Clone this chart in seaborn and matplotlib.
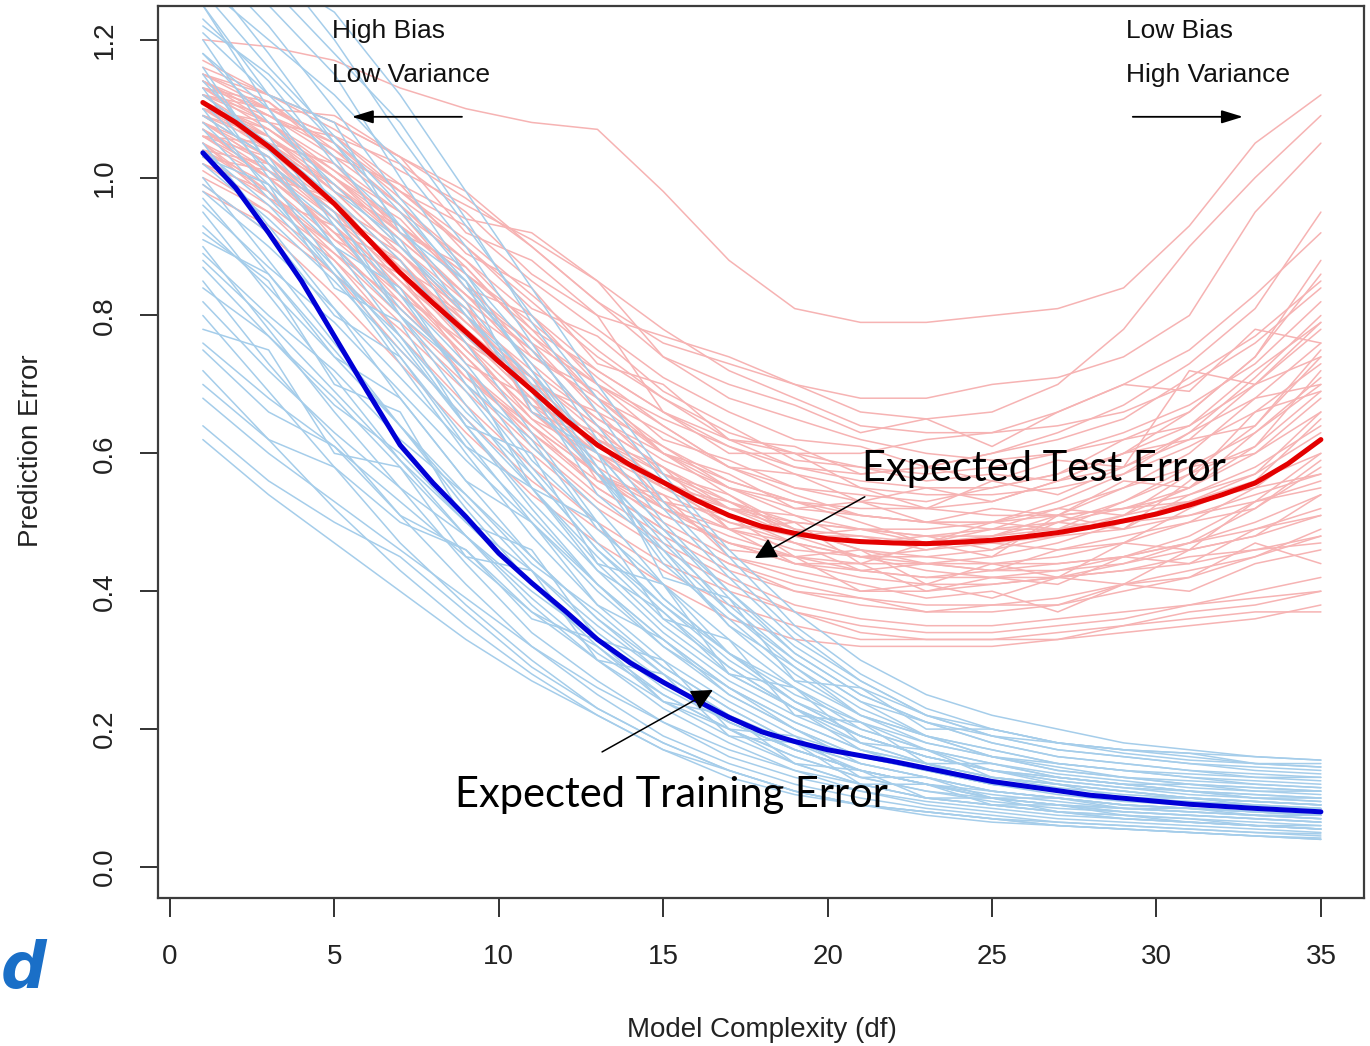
import matplotlib
matplotlib.use("Agg")
import matplotlib.pyplot as plt
import pandas as pd
import seaborn as sns

# Model complexity grid at which each simulated run is recorded
DF_GRID = [1, 3, 5, 7, 9, 11, 13, 15, 17, 19, 21, 23, 25, 27, 29, 31, 33, 35]

# Test error of individual training sets (one list per run)
TEST_RUNS = [
    [1.20, 1.19, 1.17, 1.13, 1.10, 1.08, 1.07, 0.98, 0.88, 0.81, 0.79, 0.79, 0.80, 0.81, 0.84, 0.93, 1.05, 1.12],
    [1.15, 1.12, 1.08, 1.03, 0.98, 0.90, 0.82, 0.76, 0.73, 0.70, 0.66, 0.65, 0.66, 0.70, 0.78, 0.90, 1.00, 1.09],
    [1.13, 1.10, 1.06, 1.02, 0.95, 0.86, 0.80, 0.77, 0.74, 0.70, 0.68, 0.68, 0.70, 0.71, 0.74, 0.80, 0.95, 1.05],
    [1.12, 1.08, 1.01, 0.93, 0.86, 0.78, 0.72, 0.66, 0.62, 0.60, 0.60, 0.62, 0.63, 0.66, 0.70, 0.75, 0.83, 0.92],
    [1.10, 1.06, 0.99, 0.90, 0.80, 0.70, 0.62, 0.57, 0.53, 0.50, 0.49, 0.48, 0.49, 0.50, 0.52, 0.55, 0.60, 0.66],
    [1.09, 1.03, 0.95, 0.85, 0.75, 0.66, 0.58, 0.52, 0.47, 0.44, 0.43, 0.42, 0.43, 0.44, 0.45, 0.47, 0.50, 0.54],
    [1.07, 1.00, 0.92, 0.82, 0.72, 0.62, 0.54, 0.48, 0.43, 0.40, 0.39, 0.38, 0.38, 0.39, 0.41, 0.43, 0.45, 0.48],
    [1.05, 0.98, 0.88, 0.77, 0.67, 0.58, 0.50, 0.44, 0.40, 0.37, 0.35, 0.34, 0.34, 0.35, 0.36, 0.38, 0.40, 0.42],
    [1.14, 1.10, 1.05, 0.97, 0.90, 0.82, 0.74, 0.68, 0.62, 0.58, 0.56, 0.55, 0.55, 0.57, 0.60, 0.64, 0.70, 0.78],
    [1.11, 1.07, 1.00, 0.92, 0.83, 0.73, 0.65, 0.59, 0.55, 0.52, 0.51, 0.50, 0.50, 0.52, 0.55, 0.58, 0.63, 0.70],
    [1.08, 1.04, 0.97, 0.88, 0.78, 0.69, 0.61, 0.55, 0.50, 0.47, 0.45, 0.45, 0.46, 0.48, 0.51, 0.55, 0.61, 0.69],
    [1.13, 1.08, 1.02, 0.95, 0.88, 0.78, 0.68, 0.60, 0.54, 0.49, 0.46, 0.45, 0.44, 0.44, 0.45, 0.47, 0.49, 0.52],
    [1.06, 1.01, 0.94, 0.86, 0.77, 0.68, 0.60, 0.53, 0.49, 0.46, 0.45, 0.46, 0.48, 0.51, 0.55, 0.60, 0.68, 0.76],
    [1.04, 0.99, 0.91, 0.83, 0.74, 0.64, 0.57, 0.50, 0.45, 0.42, 0.40, 0.40, 0.41, 0.42, 0.44, 0.47, 0.52, 0.58],
    [1.12, 1.06, 0.98, 0.89, 0.81, 0.74, 0.68, 0.63, 0.58, 0.55, 0.53, 0.52, 0.51, 0.51, 0.52, 0.53, 0.55, 0.57],
    [1.02, 0.96, 0.89, 0.80, 0.71, 0.63, 0.56, 0.51, 0.47, 0.44, 0.42, 0.41, 0.41, 0.42, 0.43, 0.45, 0.46, 0.47],
    [1.15, 1.11, 1.04, 0.96, 0.88, 0.80, 0.72, 0.66, 0.61, 0.57, 0.55, 0.54, 0.54, 0.55, 0.57, 0.61, 0.66, 0.73],
    [1.09, 1.05, 0.99, 0.91, 0.83, 0.75, 0.67, 0.60, 0.55, 0.51, 0.49, 0.48, 0.48, 0.49, 0.51, 0.53, 0.56, 0.60],
    [1.00, 0.95, 0.88, 0.79, 0.70, 0.61, 0.53, 0.47, 0.42, 0.38, 0.36, 0.35, 0.35, 0.36, 0.37, 0.38, 0.39, 0.40],
    [1.17, 1.12, 1.07, 1.01, 0.96, 0.91, 0.85, 0.78, 0.72, 0.68, 0.64, 0.63, 0.63, 0.64, 0.66, 0.70, 0.76, 0.84],
    [1.10, 1.04, 0.96, 0.86, 0.76, 0.67, 0.60, 0.55, 0.52, 0.50, 0.49, 0.49, 0.50, 0.53, 0.57, 0.63, 0.71, 0.80],
    [1.07, 1.02, 0.95, 0.87, 0.79, 0.71, 0.64, 0.58, 0.53, 0.49, 0.46, 0.44, 0.43, 0.43, 0.44, 0.46, 0.48, 0.51],
    [1.03, 0.97, 0.90, 0.81, 0.72, 0.63, 0.55, 0.49, 0.44, 0.40, 0.38, 0.37, 0.37, 0.38, 0.40, 0.42, 0.45, 0.49],
    [1.12, 1.09, 1.04, 0.98, 0.91, 0.83, 0.75, 0.68, 0.63, 0.60, 0.58, 0.57, 0.58, 0.60, 0.63, 0.67, 0.73, 0.82],
    [1.08, 1.02, 0.94, 0.84, 0.74, 0.65, 0.57, 0.51, 0.47, 0.45, 0.44, 0.44, 0.45, 0.47, 0.50, 0.53, 0.57, 0.63],
    [1.14, 1.09, 1.03, 0.96, 0.87, 0.77, 0.68, 0.61, 0.56, 0.53, 0.52, 0.52, 0.53, 0.56, 0.60, 0.66, 0.74, 0.86],
    [0.98, 0.93, 0.86, 0.78, 0.69, 0.60, 0.52, 0.46, 0.41, 0.37, 0.34, 0.33, 0.33, 0.33, 0.34, 0.35, 0.36, 0.38],
    [1.11, 1.06, 1.00, 0.93, 0.86, 0.79, 0.71, 0.64, 0.58, 0.54, 0.51, 0.50, 0.49, 0.49, 0.50, 0.51, 0.53, 0.56],
    [1.06, 1.00, 0.92, 0.84, 0.75, 0.66, 0.59, 0.54, 0.50, 0.48, 0.47, 0.47, 0.48, 0.50, 0.53, 0.57, 0.64, 0.74],
    [1.13, 1.07, 1.00, 0.91, 0.83, 0.76, 0.70, 0.65, 0.61, 0.58, 0.57, 0.58, 0.60, 0.63, 0.67, 0.73, 0.81, 0.95],
    [1.09, 1.03, 0.96, 0.87, 0.79, 0.71, 0.63, 0.57, 0.52, 0.48, 0.45, 0.43, 0.42, 0.42, 0.43, 0.44, 0.46, 0.48],
    [1.05, 1.00, 0.93, 0.85, 0.77, 0.68, 0.61, 0.56, 0.52, 0.49, 0.48, 0.47, 0.47, 0.48, 0.49, 0.51, 0.54, 0.57],
    [1.16, 1.12, 1.08, 1.03, 0.97, 0.90, 0.82, 0.74, 0.68, 0.65, 0.62, 0.60, 0.59, 0.60, 0.62, 0.66, 0.74, 0.88],
    [1.04, 0.98, 0.90, 0.81, 0.72, 0.64, 0.57, 0.52, 0.48, 0.45, 0.43, 0.42, 0.42, 0.43, 0.45, 0.48, 0.53, 0.60],
    [1.10, 1.05, 0.98, 0.89, 0.80, 0.72, 0.65, 0.60, 0.56, 0.53, 0.51, 0.50, 0.50, 0.51, 0.52, 0.54, 0.58, 0.64],
    [1.08, 1.02, 0.95, 0.87, 0.78, 0.70, 0.62, 0.56, 0.51, 0.47, 0.45, 0.44, 0.44, 0.45, 0.47, 0.50, 0.55, 0.62],
    [1.12, 1.10, 1.09, 1.03, 0.92, 0.88, 0.80, 0.66, 0.60, 0.60, 0.55, 0.52, 0.56, 0.54, 0.58, 0.72, 0.70, 0.79],
    [1.06, 1.05, 0.96, 0.90, 0.82, 0.66, 0.62, 0.58, 0.49, 0.50, 0.44, 0.47, 0.45, 0.51, 0.49, 0.56, 0.66, 0.69],
    [1.14, 1.08, 1.06, 0.99, 0.94, 0.92, 0.85, 0.74, 0.70, 0.67, 0.63, 0.65, 0.61, 0.66, 0.70, 0.69, 0.78, 0.76],
    [1.03, 1.01, 0.92, 0.88, 0.76, 0.70, 0.56, 0.54, 0.45, 0.43, 0.41, 0.39, 0.40, 0.37, 0.41, 0.42, 0.47, 0.44],
    [0.99, 0.92, 0.83, 0.73, 0.63, 0.54, 0.47, 0.41, 0.36, 0.33, 0.32, 0.32, 0.32, 0.33, 0.35, 0.37, 0.38, 0.40],
    [1.01, 0.95, 0.86, 0.75, 0.65, 0.56, 0.49, 0.43, 0.38, 0.35, 0.33, 0.33, 0.33, 0.34, 0.35, 0.36, 0.37, 0.37],
    [1.10, 1.07, 1.01, 0.95, 0.84, 0.76, 0.66, 0.61, 0.55, 0.53, 0.50, 0.47, 0.49, 0.52, 0.51, 0.57, 0.61, 0.72],
    [1.07, 1.00, 0.97, 0.86, 0.80, 0.67, 0.63, 0.53, 0.51, 0.45, 0.46, 0.41, 0.44, 0.42, 0.47, 0.46, 0.53, 0.55],
    [1.13, 1.11, 1.03, 0.99, 0.89, 0.84, 0.73, 0.70, 0.62, 0.61, 0.57, 0.58, 0.56, 0.59, 0.58, 0.63, 0.68, 0.70],
    [1.05, 0.97, 0.93, 0.83, 0.76, 0.65, 0.60, 0.52, 0.49, 0.44, 0.44, 0.40, 0.42, 0.41, 0.45, 0.44, 0.49, 0.51],
    [1.11, 1.04, 0.99, 0.92, 0.82, 0.75, 0.64, 0.58, 0.52, 0.51, 0.47, 0.48, 0.46, 0.50, 0.49, 0.54, 0.57, 0.66],
    [1.09, 1.06, 0.98, 0.93, 0.85, 0.74, 0.69, 0.60, 0.57, 0.52, 0.53, 0.50, 0.52, 0.51, 0.56, 0.55, 0.63, 0.71],
    [1.04, 1.02, 0.91, 0.86, 0.73, 0.68, 0.57, 0.53, 0.46, 0.45, 0.40, 0.41, 0.39, 0.42, 0.41, 0.46, 0.48, 0.54],
    [1.15, 1.10, 1.06, 0.98, 0.93, 0.85, 0.78, 0.71, 0.66, 0.62, 0.61, 0.58, 0.60, 0.62, 0.65, 0.71, 0.77, 0.85],
    [1.08, 1.03, 0.95, 0.89, 0.79, 0.70, 0.66, 0.57, 0.54, 0.48, 0.48, 0.46, 0.47, 0.46, 0.48, 0.50, 0.52, 0.59],
    [1.12, 1.05, 1.02, 0.92, 0.87, 0.77, 0.70, 0.62, 0.59, 0.55, 0.54, 0.53, 0.55, 0.57, 0.62, 0.64, 0.72, 0.79],
    [1.06, 1.03, 0.94, 0.88, 0.77, 0.71, 0.60, 0.56, 0.49, 0.47, 0.43, 0.44, 0.43, 0.46, 0.47, 0.52, 0.56, 0.65],
    [1.02, 0.98, 0.89, 0.82, 0.71, 0.64, 0.55, 0.49, 0.44, 0.41, 0.39, 0.37, 0.38, 0.38, 0.41, 0.40, 0.44, 0.46],
    [1.14, 1.09, 1.05, 0.98, 0.90, 0.81, 0.77, 0.69, 0.64, 0.59, 0.58, 0.56, 0.57, 0.56, 0.60, 0.62, 0.70, 0.74],
    [1.10, 1.08, 1.00, 0.94, 0.84, 0.80, 0.70, 0.64, 0.58, 0.57, 0.53, 0.55, 0.53, 0.56, 0.58, 0.62, 0.64, 0.75],
    [1.07, 1.01, 0.96, 0.87, 0.81, 0.71, 0.64, 0.55, 0.53, 0.48, 0.49, 0.47, 0.50, 0.49, 0.53, 0.58, 0.60, 0.68],
]

# Training error of the same runs
TRAIN_RUNS = [
    [1.30, 1.18, 1.05, 0.93, 0.82, 0.70, 0.58, 0.47, 0.38, 0.30, 0.24, 0.21, 0.19, 0.18, 0.17, 0.165, 0.16, 0.155],
    [1.25, 1.10, 0.96, 0.83, 0.70, 0.58, 0.47, 0.38, 0.31, 0.25, 0.21, 0.18, 0.16, 0.15, 0.14, 0.135, 0.13, 0.13],
    [1.20, 1.06, 0.93, 0.80, 0.67, 0.55, 0.44, 0.35, 0.28, 0.23, 0.19, 0.16, 0.14, 0.13, 0.12, 0.11, 0.105, 0.10],
    [1.15, 1.02, 0.90, 0.77, 0.64, 0.52, 0.41, 0.33, 0.26, 0.21, 0.17, 0.15, 0.13, 0.12, 0.11, 0.10, 0.095, 0.09],
    [1.10, 0.98, 0.86, 0.73, 0.60, 0.48, 0.38, 0.30, 0.24, 0.19, 0.16, 0.14, 0.12, 0.11, 0.10, 0.095, 0.09, 0.085],
    [1.05, 0.93, 0.81, 0.68, 0.56, 0.45, 0.36, 0.28, 0.22, 0.18, 0.15, 0.13, 0.11, 0.10, 0.09, 0.085, 0.08, 0.075],
    [1.00, 0.88, 0.76, 0.64, 0.52, 0.41, 0.32, 0.25, 0.20, 0.16, 0.13, 0.11, 0.10, 0.09, 0.08, 0.075, 0.07, 0.065],
    [0.95, 0.83, 0.71, 0.59, 0.48, 0.38, 0.30, 0.23, 0.18, 0.14, 0.12, 0.10, 0.09, 0.08, 0.07, 0.065, 0.06, 0.055],
    [0.90, 0.78, 0.66, 0.55, 0.44, 0.34, 0.27, 0.21, 0.16, 0.13, 0.11, 0.09, 0.08, 0.07, 0.065, 0.06, 0.055, 0.05],
    [0.85, 0.73, 0.62, 0.51, 0.41, 0.32, 0.25, 0.19, 0.15, 0.12, 0.10, 0.085, 0.075, 0.065, 0.06, 0.055, 0.05, 0.045],
    [0.80, 0.69, 0.58, 0.47, 0.38, 0.30, 0.23, 0.18, 0.14, 0.11, 0.09, 0.08, 0.07, 0.06, 0.055, 0.05, 0.045, 0.04],
    [0.72, 0.62, 0.52, 0.43, 0.35, 0.28, 0.22, 0.17, 0.13, 0.105, 0.09, 0.075, 0.065, 0.06, 0.055, 0.05, 0.045, 0.042],
    [0.64, 0.56, 0.50, 0.45, 0.37, 0.29, 0.23, 0.18, 0.14, 0.11, 0.09, 0.08, 0.07, 0.065, 0.06, 0.055, 0.05, 0.048],
    [1.28, 1.20, 1.12, 1.02, 0.90, 0.76, 0.62, 0.50, 0.40, 0.32, 0.26, 0.22, 0.20, 0.18, 0.17, 0.16, 0.15, 0.145],
    [1.22, 1.15, 1.05, 0.95, 0.85, 0.72, 0.58, 0.45, 0.35, 0.27, 0.22, 0.19, 0.17, 0.15, 0.14, 0.13, 0.12, 0.115],
    [1.12, 1.05, 0.97, 0.88, 0.76, 0.63, 0.50, 0.39, 0.31, 0.24, 0.20, 0.17, 0.15, 0.135, 0.125, 0.115, 0.11, 0.105],
    [1.08, 0.99, 0.90, 0.80, 0.69, 0.57, 0.46, 0.37, 0.29, 0.23, 0.19, 0.16, 0.14, 0.125, 0.115, 0.105, 0.10, 0.095],
    [0.98, 0.90, 0.81, 0.71, 0.61, 0.51, 0.41, 0.33, 0.26, 0.21, 0.17, 0.14, 0.12, 0.11, 0.10, 0.09, 0.085, 0.08],
    [0.93, 0.84, 0.74, 0.64, 0.54, 0.45, 0.36, 0.29, 0.23, 0.18, 0.15, 0.13, 0.11, 0.10, 0.09, 0.085, 0.08, 0.075],
    [0.88, 0.79, 0.69, 0.59, 0.50, 0.41, 0.33, 0.26, 0.21, 0.17, 0.14, 0.12, 0.10, 0.09, 0.085, 0.08, 0.075, 0.07],
    [0.82, 0.72, 0.63, 0.55, 0.48, 0.40, 0.33, 0.27, 0.21, 0.17, 0.14, 0.12, 0.11, 0.10, 0.09, 0.085, 0.08, 0.075],
    [0.76, 0.68, 0.61, 0.53, 0.45, 0.37, 0.30, 0.24, 0.19, 0.15, 0.12, 0.10, 0.09, 0.08, 0.075, 0.07, 0.065, 0.06],
    [0.68, 0.60, 0.53, 0.46, 0.39, 0.32, 0.26, 0.21, 0.17, 0.14, 0.11, 0.095, 0.085, 0.075, 0.07, 0.065, 0.06, 0.055],
    [1.30, 1.25, 1.15, 1.00, 0.86, 0.72, 0.60, 0.49, 0.40, 0.31, 0.25, 0.21, 0.18, 0.16, 0.15, 0.14, 0.13, 0.125],
    [1.18, 1.08, 0.99, 0.90, 0.80, 0.69, 0.57, 0.46, 0.37, 0.29, 0.23, 0.19, 0.16, 0.145, 0.13, 0.12, 0.115, 0.11],
    [1.02, 0.94, 0.85, 0.75, 0.65, 0.55, 0.45, 0.36, 0.29, 0.23, 0.18, 0.15, 0.13, 0.115, 0.105, 0.10, 0.095, 0.09],
    [1.13, 1.00, 0.87, 0.74, 0.62, 0.50, 0.40, 0.32, 0.25, 0.20, 0.16, 0.14, 0.12, 0.105, 0.095, 0.09, 0.085, 0.08],
    [0.97, 0.86, 0.75, 0.64, 0.53, 0.43, 0.34, 0.27, 0.21, 0.17, 0.14, 0.12, 0.105, 0.095, 0.085, 0.08, 0.075, 0.07],
    [1.07, 0.97, 0.87, 0.76, 0.64, 0.53, 0.43, 0.34, 0.27, 0.22, 0.18, 0.15, 0.13, 0.12, 0.11, 0.10, 0.095, 0.09],
    [0.87, 0.77, 0.68, 0.58, 0.48, 0.39, 0.31, 0.25, 0.20, 0.16, 0.13, 0.11, 0.095, 0.085, 0.08, 0.075, 0.07, 0.065],
    [1.16, 1.02, 0.95, 0.80, 0.72, 0.55, 0.50, 0.36, 0.33, 0.22, 0.21, 0.15, 0.15, 0.13, 0.12, 0.12, 0.11, 0.11],
    [0.92, 0.85, 0.70, 0.66, 0.50, 0.46, 0.33, 0.30, 0.20, 0.19, 0.13, 0.13, 0.10, 0.10, 0.085, 0.085, 0.075, 0.075],
    [1.25, 1.12, 1.08, 0.92, 0.85, 0.66, 0.60, 0.42, 0.39, 0.27, 0.26, 0.20, 0.20, 0.18, 0.17, 0.165, 0.15, 0.15],
    [0.78, 0.75, 0.60, 0.58, 0.45, 0.43, 0.30, 0.28, 0.19, 0.18, 0.12, 0.12, 0.09, 0.09, 0.075, 0.07, 0.06, 0.06],
    [1.03, 0.99, 0.84, 0.79, 0.64, 0.60, 0.44, 0.41, 0.28, 0.26, 0.18, 0.17, 0.13, 0.12, 0.10, 0.10, 0.09, 0.085],
    [0.70, 0.62, 0.58, 0.50, 0.46, 0.36, 0.33, 0.24, 0.22, 0.15, 0.14, 0.10, 0.10, 0.08, 0.075, 0.065, 0.06, 0.055],
    [1.35, 1.30, 1.24, 1.12, 0.98, 0.84, 0.70, 0.57, 0.46, 0.37, 0.30, 0.25, 0.22, 0.20, 0.18, 0.17, 0.16, 0.155],
    [1.40, 1.32, 1.20, 1.06, 0.93, 0.80, 0.68, 0.56, 0.45, 0.35, 0.28, 0.23, 0.20, 0.18, 0.165, 0.155, 0.15, 0.145],
    [1.32, 1.22, 1.10, 0.97, 0.86, 0.75, 0.64, 0.52, 0.42, 0.33, 0.27, 0.22, 0.19, 0.17, 0.16, 0.15, 0.14, 0.135],
    [0.62, 0.54, 0.47, 0.40, 0.33, 0.27, 0.22, 0.17, 0.14, 0.11, 0.09, 0.08, 0.07, 0.06, 0.055, 0.05, 0.045, 0.04],
    [1.27, 1.16, 1.06, 0.96, 0.84, 0.73, 0.60, 0.49, 0.39, 0.31, 0.25, 0.21, 0.18, 0.16, 0.15, 0.14, 0.135, 0.13],
    [1.18, 1.10, 0.98, 0.91, 0.77, 0.69, 0.54, 0.46, 0.35, 0.29, 0.22, 0.19, 0.16, 0.14, 0.13, 0.12, 0.115, 0.11],
    [1.09, 1.03, 0.90, 0.84, 0.70, 0.62, 0.49, 0.41, 0.31, 0.26, 0.20, 0.17, 0.14, 0.13, 0.12, 0.11, 0.10, 0.10],
    [0.99, 0.92, 0.80, 0.74, 0.61, 0.55, 0.43, 0.37, 0.28, 0.23, 0.17, 0.15, 0.12, 0.11, 0.10, 0.095, 0.09, 0.085],
    [0.91, 0.86, 0.74, 0.68, 0.56, 0.50, 0.38, 0.33, 0.25, 0.20, 0.15, 0.13, 0.11, 0.10, 0.09, 0.085, 0.08, 0.075],
    [1.23, 1.14, 1.02, 0.93, 0.80, 0.71, 0.57, 0.48, 0.37, 0.30, 0.24, 0.19, 0.17, 0.15, 0.14, 0.13, 0.125, 0.12],
    [1.14, 1.04, 0.94, 0.83, 0.73, 0.61, 0.52, 0.41, 0.33, 0.26, 0.21, 0.17, 0.15, 0.13, 0.12, 0.11, 0.105, 0.10],
    [1.04, 0.96, 0.86, 0.77, 0.66, 0.57, 0.46, 0.38, 0.30, 0.24, 0.19, 0.16, 0.14, 0.12, 0.11, 0.10, 0.095, 0.09],
    [0.96, 0.87, 0.79, 0.69, 0.59, 0.50, 0.41, 0.32, 0.26, 0.20, 0.16, 0.14, 0.12, 0.11, 0.10, 0.09, 0.085, 0.08],
    [0.84, 0.77, 0.67, 0.60, 0.50, 0.43, 0.35, 0.28, 0.22, 0.17, 0.14, 0.12, 0.10, 0.09, 0.08, 0.075, 0.07, 0.065],
    [0.75, 0.66, 0.61, 0.51, 0.46, 0.37, 0.32, 0.24, 0.20, 0.15, 0.12, 0.10, 0.09, 0.08, 0.07, 0.065, 0.06, 0.055],
    [1.33, 1.28, 1.18, 1.08, 0.94, 0.79, 0.66, 0.53, 0.43, 0.34, 0.27, 0.22, 0.19, 0.17, 0.16, 0.15, 0.145, 0.14],
    [1.21, 1.12, 1.03, 0.90, 0.81, 0.67, 0.57, 0.44, 0.36, 0.28, 0.22, 0.18, 0.16, 0.14, 0.13, 0.125, 0.12, 0.115],
    [1.11, 1.01, 0.93, 0.81, 0.72, 0.59, 0.50, 0.39, 0.31, 0.24, 0.19, 0.16, 0.14, 0.125, 0.115, 0.11, 0.10, 0.095],
    [0.89, 0.80, 0.72, 0.62, 0.54, 0.44, 0.37, 0.29, 0.23, 0.18, 0.14, 0.12, 0.10, 0.09, 0.085, 0.08, 0.075, 0.07],
]

# Expected (average) curves
TEST_MEAN_DF = list(range(1, 36))
TEST_MEAN = [1.109, 1.080, 1.045, 1.005, 0.962, 0.912, 0.862, 0.818, 0.776, 0.733,
             0.692, 0.650, 0.612, 0.583, 0.558, 0.532, 0.510, 0.494, 0.484, 0.476,
             0.472, 0.470, 0.469, 0.471, 0.474, 0.479, 0.485, 0.493, 0.502, 0.512,
             0.525, 0.540, 0.557, 0.585, 0.620]
TRAIN_MEAN_DF = [1, 2, 3, 4, 5, 6, 7, 8, 9, 10, 11, 12, 13, 14, 15, 16, 17, 18, 19, 20,
                 22, 25, 28, 31, 33, 35]
TRAIN_MEAN = [1.036, 0.985, 0.920, 0.850, 0.770, 0.690, 0.612, 0.557, 0.508, 0.455,
              0.412, 0.372, 0.330, 0.296, 0.268, 0.242, 0.217, 0.196, 0.182, 0.170,
              0.153, 0.124, 0.104, 0.091, 0.085, 0.080]

X_TICKS = [0, 5, 10, 15, 20, 25, 30, 35]
Y_TICKS = [0.0, 0.2, 0.4, 0.6, 0.8, 1.0, 1.2]

PINK = "#f6b3b3"
SKY = "#a5cdea"
RED = "#e30000"
BLUE = "#0000d6"


def long_table(runs):
    rows = [(d, v, i) for i, run in enumerate(runs) for d, v in zip(DF_GRID, run)]
    return pd.DataFrame(rows, columns=["df", "error", "run"])


sns.set_style("white")
plt.rcParams["font.family"] = ["Liberation Sans", "DejaVu Sans"]

fig = plt.figure(figsize=(13.70, 10.46), dpi=100)
ax = fig.add_axes([0.1153, 0.1415, 0.8803, 0.8528])

sns.lineplot(data=long_table(TEST_RUNS), x="df", y="error", units="run",
             estimator=None, color=PINK, lw=1.1, ax=ax, legend=False)
sns.lineplot(data=long_table(TRAIN_RUNS), x="df", y="error", units="run",
             estimator=None, color=SKY, lw=1.1, ax=ax, legend=False)
sns.lineplot(x=TEST_MEAN_DF, y=TEST_MEAN, color=RED, lw=3.6, ax=ax,
             solid_joinstyle="round", solid_capstyle="round")
sns.lineplot(x=TRAIN_MEAN_DF, y=TRAIN_MEAN, color=BLUE, lw=3.6, ax=ax,
             solid_joinstyle="round", solid_capstyle="round")

ax.set_xlim(-0.365, 36.31)
ax.set_ylim(-0.045, 1.249)

for side in ["left", "right", "top", "bottom"]:
    ax.spines[side].set_visible(True)
    ax.spines[side].set_color("#3c3c3c")
    ax.spines[side].set_linewidth(1.6)

ax.set_xticks(X_TICKS)
ax.set_xticklabels([str(t) for t in X_TICKS])
ax.set_yticks(Y_TICKS)
ax.set_yticklabels([f"{t:.1f}" for t in Y_TICKS], rotation=90, va="center")
ax.tick_params(axis="x", direction="out", length=14, width=1.3, pad=19,
               labelsize=20, colors="#222222", bottom=True, top=False)
ax.tick_params(axis="y", direction="out", length=13, width=1.3, pad=16,
               labelsize=20, colors="#222222", left=True, right=False)

ax.set_xlabel("Model Complexity (df)", fontsize=20, color="#222222")
ax.set_ylabel("Prediction Error", fontsize=20, color="#222222")
ax.xaxis.set_label_coords(0.5008, -0.148)
ax.xaxis.label.set_va("center")
ax.yaxis.set_label_coords(-0.1055, 0.501)
ax.yaxis.label.set_va("center")

# Bias / variance direction notes
note_kw = dict(fontsize=19, color="#111111", ha="left", va="baseline")
ax.text(4.93, 1.2028, "High Bias", **note_kw)
ax.text(4.93, 1.139, "Low Variance", **note_kw)
ax.text(29.07, 1.2028, "Low Bias", **note_kw)
ax.text(29.07, 1.139, "High Variance", **note_kw)

small_arrow = dict(arrowstyle="-|>,head_length=0.65,head_width=0.2", color="black",
                   lw=1.3, mutation_scale=20, shrinkA=0, shrinkB=0)
ax.annotate("", xy=(5.53, 1.0882), xytext=(8.88, 1.0882), arrowprops=small_arrow)
ax.annotate("", xy=(32.63, 1.0882), xytext=(29.28, 1.0882), arrowprops=small_arrow)

# Curve labels
big_kw = dict(fontsize=30, family=["Lato", "DejaVu Sans"], weight="normal",
              color="black", ha="left", va="baseline")
ax.text(21.04, 0.560, "Expected Test Error", **big_kw)
ax.text(8.67, 0.0871, "Expected Training Error", **big_kw)

big_arrow = dict(arrowstyle="-|>,head_length=0.6,head_width=0.3", color="black",
                 lw=1.1, mutation_scale=22, shrinkA=0, shrinkB=0)
ax.annotate("", xy=(17.79, 0.448), xytext=(21.13, 0.537), arrowprops=big_arrow)
ax.annotate("", xy=(16.51, 0.2568), xytext=(13.14, 0.1669), arrowprops=big_arrow)

# Corner mark
fig.text(1 / 1370, 1 - 988 / 1046, "d", fontsize=46, color="#1a6fc7",
         style="italic", weight="bold", family="DejaVu Sans",
         ha="left", va="baseline")

fig.savefig("out.png", dpi=100)
